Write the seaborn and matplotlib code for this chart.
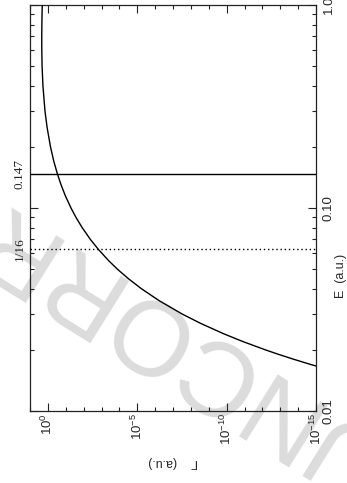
import numpy as np
import pandas as pd
import matplotlib
matplotlib.use("Agg")
import matplotlib.pyplot as plt
import seaborn as sns
from matplotlib.ticker import FixedLocator, FixedFormatter, NullFormatter

# ---- data ----
E_field = [1.0, 0.9, 0.8, 0.7, 0.6, 0.5, 0.4, 0.3, 0.25, 0.2,
           0.17, 0.147, 0.13, 0.115, 0.1, 0.09, 0.08, 0.07, 0.0625, 0.055,
           0.05, 0.045, 0.04, 0.035, 0.03, 0.027, 0.024, 0.022, 0.02, 0.019,
           0.018, 0.017, 0.0165]
gamma = [2.06, 2.12, 2.17, 2.20, 2.19, 2.11, 1.89, 1.45, 1.11, 0.713,
         0.467, 0.292, 0.182, 0.106, 5.09e-2, 2.70e-2, 1.20e-2, 4.18e-3, 1.49e-3, 3.96e-4,
         1.30e-4, 3.28e-5, 5.78e-6, 6.12e-7, 2.99e-8, 2.81e-9, 1.44e-10, 1.26e-11, 6.70e-13, 1.22e-13,
         1.84e-14, 2.20e-15, 6.90e-16]

marker_solid = 0.147
marker_dotted = 1 / 16
marker_labels = ["0.147", "1/16"]

gamma_major = [1e0, 1e-5, 1e-10, 1e-15]
gamma_major_labels = [r"$\mathregular{10^{0}}$", r"$\mathregular{10^{-5}}$",
                      r"$\mathregular{10^{-10}}$", r"$\mathregular{10^{-15}}$"]
gamma_minor = [1e1, 1e-1, 1e-2, 1e-3, 1e-4, 1e-6, 1e-7, 1e-8, 1e-9,
               1e-11, 1e-12, 1e-13, 1e-14]
E_major = [0.01, 0.1, 1.0]
E_major_labels = ["0.01", "0.10", "1.0"]
E_minor = [0.02, 0.03, 0.04, 0.05, 0.06, 0.07, 0.08, 0.09,
           0.2, 0.3, 0.4, 0.5, 0.6, 0.7, 0.8, 0.9]

df = pd.DataFrame({"gamma": gamma, "E": E_field})

sns.set_style("ticks")
plt.rcParams["font.family"] = ["Liberation Sans", "DejaVu Sans"]
plt.rcParams["mathtext.fontset"] = "custom"
plt.rcParams["mathtext.rm"] = "Liberation Sans"
plt.rcParams["mathtext.it"] = "Liberation Sans:italic"
plt.rcParams["mathtext.bf"] = "Liberation Sans:bold"

fig = plt.figure(figsize=(3.47, 4.83), dpi=100)
ax = fig.add_axes([30 / 347, 1 - 411 / 483, 286 / 347, 406 / 483])
ax.set_facecolor("white")

# watermark
ax.text(22 / 347, 1 - 250 / 483, "UNCORRECTED", transform=fig.transFigure,
        rotation=148, rotation_mode="anchor", ha="center", va="center",
        fontsize=76, color="#dcdcdc", zorder=0, clip_on=False)

sns.lineplot(data=df, x="gamma", y="E", sort=False, estimator=None,
             color="black", linewidth=1.0, ax=ax, zorder=3)
ax.axhline(marker_solid, color="black", linewidth=1.0, zorder=3)
ax.axhline(marker_dotted, color="black", linewidth=1.0, linestyle=(0, (1, 2)), zorder=3)

ax.set_xscale("log")
ax.set_yscale("log")
ax.set_xlim(1e1, 1e-15)
ax.set_ylim(0.01, 1.0)

ax.xaxis.set_major_locator(FixedLocator(gamma_major))
ax.xaxis.set_major_formatter(FixedFormatter(gamma_major_labels))
ax.xaxis.set_minor_locator(FixedLocator(gamma_minor))
ax.xaxis.set_minor_formatter(NullFormatter())
ax.yaxis.set_major_locator(FixedLocator(E_major))
ax.yaxis.set_major_formatter(FixedFormatter(E_major_labels))
ax.yaxis.set_minor_locator(FixedLocator(E_minor))
ax.yaxis.set_minor_formatter(NullFormatter())

for s in ax.spines.values():
    s.set_linewidth(0.9)
    s.set_color("#222222")
    s.set_visible(True)

ax.tick_params(which="both", direction="in", top=True, bottom=True, left=True, right=True,
               labelleft=False, labelright=True, color="#222222", width=0.8)
ax.tick_params(which="major", length=5.5)
ax.tick_params(which="minor", length=3)
ax.tick_params(axis="x", which="major", labelsize=9.5, pad=1.5, labelrotation=90)
ax.tick_params(axis="y", which="major", labelsize=9.5, pad=5, labelrotation=90)
for lab in ax.get_yticklabels():
    lab.set_va("center")

ax.set_xlabel("Γ    (a.u.)", fontsize=9, rotation=180, va="center", ha="center")
ax.xaxis.set_label_coords(0.5, -0.1256)
ax.yaxis.set_label_position("right")
ax.set_ylabel("E  (a.u.)", fontsize=9, rotation=90, va="center", ha="center")
ax.yaxis.set_label_coords(1.087, 0.332)

# labels of the two marked fields on the left side
for val, lab in zip([marker_solid, marker_dotted], marker_labels):
    ax.text(-0.035, val, lab, transform=ax.get_yaxis_transform(), rotation=90,
            ha="center", va="center", fontsize=9.5, family="Liberation Serif")

fig.savefig("out.png", dpi=100)
